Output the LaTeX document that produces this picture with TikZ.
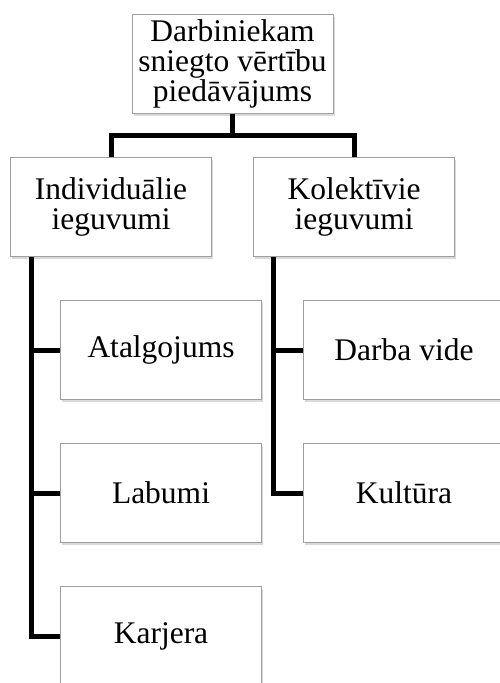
\documentclass[tikz,border=0pt]{standalone}
\usepackage{fontspec}
\setmainfont{Liberation Serif}
\usetikzlibrary{shadows}
\definecolor{boxgray}{gray}{0.62}
\newcommand{\bigtxt}{\fontsize{31.5}{30}\selectfont}

\begin{document}
\begin{tikzpicture}[x=1pt,y=-1pt,
    box/.style={draw=boxgray,line width=0.8pt,fill=white,
      minimum width=201pt,minimum height=99pt,inner sep=0pt,
      align=center,font=\bigtxt,
      drop shadow={shadow xshift=1.5pt,shadow yshift=-2.5pt,opacity=0.3}},
    conn/.style={line width=5pt,black}]
  \useasboundingbox (0,0) rectangle (499,683);
  \node[box] (top) at (232.5,64) {Darbiniekam\\sniegto vērtību\\piedāvājums};
  \node[box] (ind) at (111,207) {Individuālie\\ieguvumi};
  \node[box] (kol) at (354,207) {Kolektīvie\\ieguvumi};
  \node[box] (atal) at (161,350) {Atalgojums};
  \node[box] (lab) at (161,493) {Labumi};
  \node[box] (karj) at (161,636) {Karjera};
  \node[box] (vide) at (404,350) {Darba vide};
  \node[box] (kult) at (404,493) {Kultūra};
  \draw[conn] (top.south) -- ++(0,22) -| (ind.north);
  \draw[conn] (top.south) ++(0,22) -| (kol.north);
  \draw[conn] ([xshift=21pt]ind.south west) |- (atal.west);
  \draw[conn] ([xshift=21pt]ind.south west) |- (lab.west);
  \draw[conn] ([xshift=21pt]ind.south west) |- (karj.west);
  \draw[conn] ([xshift=20pt]kol.south west) |- (vide.west);
  \draw[conn] ([xshift=20pt]kol.south west) |- (kult.west);
\end{tikzpicture}
\end{document}
